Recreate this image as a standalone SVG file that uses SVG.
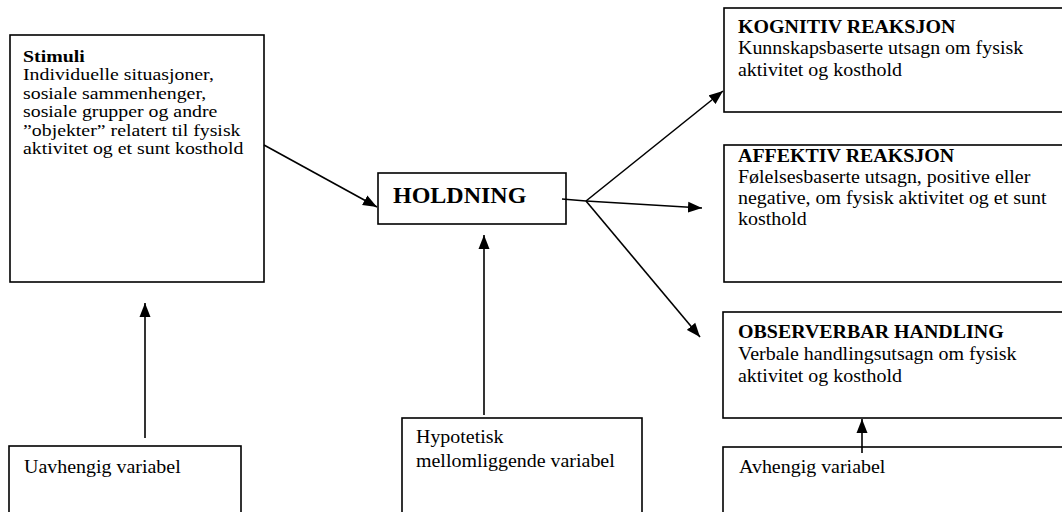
<svg xmlns="http://www.w3.org/2000/svg" width="1062" height="512" viewBox="0 0 1062 512">
<style>
.box{fill:#fff;stroke:#000;stroke-width:1.6}
.t{font-family:"Liberation Serif","Times New Roman",serif;font-size:19px;fill:#000}
.s{font-size:16px}
.b{font-weight:bold}
.h{font-family:"Liberation Serif","Times New Roman",serif;font-size:24px;font-weight:bold;fill:#000}
.c{stroke:#000;stroke-width:1.6;fill:none}
</style>
<defs>
<marker id="ah" markerUnits="userSpaceOnUse" markerWidth="15" markerHeight="12" refX="14" refY="6" orient="auto">
<path d="M0,0.5 L14,6 L0,11.5 Z" fill="#000"/>
</marker>
</defs>
<rect width="1062" height="512" fill="#fff"/>
<g id="stimuli">
<rect class="box" x="10" y="35" width="254" height="247"/>
<text class="t s" transform="translate(23 62) scale(1.24 1)"><tspan x="0" y="0" class="b">Stimuli</tspan><tspan x="0" y="18.4">Individuelle situasjoner,</tspan><tspan x="0" y="36.8">sosiale sammenhenger,</tspan><tspan x="0" y="55.2">sosiale grupper og andre</tspan><tspan x="0" y="73.6">”objekter” relatert til fysisk</tspan><tspan x="0" y="92">aktivitet og et sunt kosthold</tspan></text>
</g>
<g id="holdning">
<rect class="box" x="378" y="173" width="188" height="51"/>
<text class="h" x="393" y="203">HOLDNING</text>
</g>
<g id="kognitiv">
<rect class="box" x="724" y="8" width="350" height="104"/>
<text class="t" transform="translate(738 33) scale(1.05 1)"><tspan x="0" y="0" class="b">KOGNITIV REAKSJON</tspan><tspan x="0" y="21.5">Kunnskapsbaserte utsagn om fysisk</tspan><tspan x="0" y="43">aktivitet og kosthold</tspan></text>
</g>
<g id="affektiv">
<rect class="box" x="724" y="145" width="350" height="137"/>
<text class="t" transform="translate(738 162) scale(1.05 1)"><tspan x="0" y="0" class="b">AFFEKTIV REAKSJON</tspan><tspan x="0" y="21">Følelsesbaserte utsagn, positive eller</tspan><tspan x="0" y="42">negative, om fysisk aktivitet og et sunt</tspan><tspan x="0" y="63">kosthold</tspan></text>
</g>
<g id="observerbar">
<rect class="box" x="723" y="312" width="350" height="106"/>
<text class="t" transform="translate(738 338) scale(1.05 1)"><tspan x="0" y="0" class="b">OBSERVERBAR HANDLING</tspan><tspan x="0" y="22">Verbale handlingsutsagn om fysisk</tspan><tspan x="0" y="44">aktivitet og kosthold</tspan></text>
</g>
<g id="uavhengig">
<rect class="box" x="9" y="446" width="232" height="80"/>
<text class="t" transform="translate(24 473) scale(1.05 1)">Uavhengig variabel</text>
</g>
<g id="hypotetisk">
<rect class="box" x="402" y="418" width="240" height="110"/>
<text class="t" transform="translate(416 443) scale(1.05 1)"><tspan x="0" y="0">Hypotetisk</tspan><tspan x="0" y="24">mellomliggende variabel</tspan></text>
</g>
<g id="avhengig">
<rect class="box" x="723" y="447" width="350" height="80"/>
<text class="t" transform="translate(739 473) scale(1.05 1)">Avhengig variabel</text>
</g>
<g id="connectors">
<line class="c" x1="264" y1="145" x2="377" y2="207" marker-end="url(#ah)"/>
<line class="c" x1="145" y1="438" x2="145" y2="303" marker-end="url(#ah)"/>
<line class="c" x1="484" y1="415" x2="484" y2="235" marker-end="url(#ah)"/>
<line class="c" x1="562" y1="199" x2="586" y2="201"/>
<line class="c" x1="586" y1="201" x2="723" y2="91" marker-end="url(#ah)"/>
<line class="c" x1="586" y1="201" x2="702" y2="208" marker-end="url(#ah)"/>
<line class="c" x1="586" y1="201" x2="700" y2="337" marker-end="url(#ah)"/>
<line class="c" x1="862" y1="453" x2="862" y2="419" marker-end="url(#ah)"/>
</g>
</svg>
